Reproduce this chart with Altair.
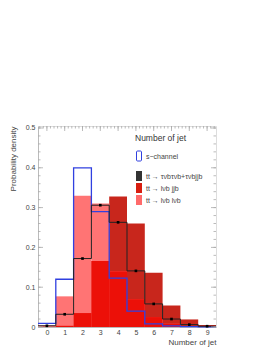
import altair as alt
import pandas as pd

# ---- data ----
bins = [0, 1, 2, 3, 4, 5, 6, 7, 8, 9]
s_channel = [0.009, 0.120, 0.400, 0.290, 0.123, 0.040, 0.008, 0.003, 0.001, 0.0005]
tt_tau = [0.003, 0.032, 0.172, 0.306, 0.263, 0.141, 0.058, 0.020, 0.006, 0.002]
tt_lvb_jjb = [0.0, 0.003, 0.035, 0.166, 0.328, 0.260, 0.136, 0.054, 0.019, 0.005]
tt_lvb_lvb = [0.004, 0.077, 0.330, 0.310, 0.140, 0.070, 0.025, 0.008, 0.002, 0.001]

y_ticks = [0, 0.1, 0.2, 0.3, 0.4, 0.5]
legend_title = "Number of jet"
legend_labels = ["s\u2212channel", "tt \u2192 \u03c4\u03bdb\u03c4\u03bdb+\u03c4\u03bdbjjb",
                 "tt \u2192 l\u03bdb jjb", "tt \u2192 l\u03bdb l\u03bdb"]

W, H = 178, 201
FONT = "Liberation Sans"
C_DARK = "#c8261c"
C_PINK = "#ff7474"
C_BRIGHT = "#ec1008"
C_BLUE = "#3040e0"

df = pd.DataFrame({
    "bin": bins,
    "s": s_channel,
    "tau": tt_tau,
    "jjb": tt_lvb_jjb,
    "lvb": tt_lvb_lvb,
})
df["lo"] = df["bin"] - 0.5
df["hi"] = df["bin"] + 0.5
df["overlap"] = df[["jjb", "lvb"]].min(axis=1)

edges = [b - 0.5 for b in bins] + [bins[-1] + 0.5]
step = pd.DataFrame({
    "edge": edges,
    "s": s_channel + [s_channel[-1]],
    "tau": tt_tau + [tt_tau[-1]],
})

xs = alt.Scale(domain=[-0.5, 9.5], nice=False, zero=False)
ys = alt.Scale(domain=[0, 0.505], nice=False, zero=True)

xaxis = alt.Axis(values=bins, format="d", ticks=False, grid=False, labelFontSize=7,
                 labelOverlap=False, labelPadding=1, labelColor="#444", labelFont=FONT,
                 domainColor="#bbb", labelBound=False, labelFlush=False,
                 title="Number of jet", titleAnchor="end", titleFontSize=8,
                 titleFontWeight="normal", titleColor="#444", titleFont=FONT, titlePadding=3)
yaxis = alt.Axis(values=y_ticks, ticks=False, grid=False, labelFontSize=7, labelPadding=3,
                 labelOverlap=False, labelColor="#444", labelFont=FONT, domainColor="#bbb",
                 labelFlush=False,
                 labelExpr="datum.value == 0 ? '0' : format(datum.value, '.1f')",
                 title="Probability density", titleAnchor="end", titleFontSize=8,
                 titleFontWeight="normal", titleColor="#444", titleFont=FONT, titlePadding=8)


def X(f):
    return alt.X(f, scale=xs, axis=xaxis)


def Y(f):
    return alt.Y(f, scale=ys, axis=yaxis)


base = alt.Chart(df)

dark = base.mark_rect(color=C_DARK).encode(x=X("lo:Q"), x2="hi:Q", y=Y("jjb:Q"), y2=alt.datum(0))
pink = base.mark_rect(color=C_PINK).encode(x=X("lo:Q"), x2="hi:Q", y=Y("lvb:Q"), y2=alt.datum(0))
bright = base.mark_rect(color=C_BRIGHT).encode(x=X("lo:Q"), x2="hi:Q", y=Y("overlap:Q"), y2=alt.datum(0))

blue = alt.Chart(step).mark_line(color=C_BLUE, strokeWidth=1.3, interpolate="step-after").encode(
    x=X("edge:Q"), y=Y("s:Q"))
black = alt.Chart(step).mark_line(color="#222", strokeWidth=1, interpolate="step-after").encode(
    x=X("edge:Q"), y=Y("tau:Q"))
pts = base.mark_square(color="black", size=7, opacity=1).encode(x=X("bin:Q"), y=Y("tau:Q"))

# inward ticks (ROOT style)
major_y = pd.DataFrame({"v": y_ticks})
minor_y = pd.DataFrame({"v": [round(i * 0.02, 3) for i in range(26)]})
minor_x = pd.DataFrame({"v": [round(-0.4 + i * 0.2, 2) for i in range(50)]})
major_x = pd.DataFrame({"v": bins})
tk = "#aaa"
ticks = [
    alt.Chart(major_y).mark_rule(color=tk, strokeWidth=0.8).encode(
        y=Y("v:Q"), x=alt.value(0), x2=alt.value(5)),
    alt.Chart(minor_y).mark_rule(color=tk, strokeWidth=0.8).encode(
        y=Y("v:Q"), x=alt.value(0), x2=alt.value(2.5)),
    alt.Chart(major_y).mark_rule(color=tk, strokeWidth=0.8).encode(
        y=Y("v:Q"), x=alt.value(W - 5), x2=alt.value(W)),
    alt.Chart(minor_y).mark_rule(color=tk, strokeWidth=0.8).encode(
        y=Y("v:Q"), x=alt.value(W - 2.5), x2=alt.value(W)),
    alt.Chart(minor_x).mark_rule(color=tk, strokeWidth=0.8).encode(
        x=X("v:Q"), y=alt.value(0), y2=alt.value(2.5)),
    alt.Chart(major_x).mark_rule(color=tk, strokeWidth=0.8).encode(
        x=X("v:Q"), y=alt.value(0), y2=alt.value(5)),
]

# legend
one = pd.DataFrame({"a": [0]})
leg = [alt.Chart(one).mark_text(text=legend_title, align="left", baseline="middle",
                                fontSize=8.5, font=FONT, color="#333").encode(
    x=alt.value(97), y=alt.value(12))]
box_y = [25, 45, 57, 69]
box_fill = [None, "#333333", "#d81e10", "#ff6a6a"]
for lab, by, fc in zip(legend_labels, box_y, box_fill):
    if fc is None:
        leg.append(alt.Chart(one).mark_rect(fill="white", stroke=C_BLUE, strokeWidth=1,
                                            cornerRadius=1).encode(
            x=alt.value(98.5), x2=alt.value(103.5), y=alt.value(by), y2=alt.value(by + 10)))
    else:
        leg.append(alt.Chart(one).mark_rect(fill=fc).encode(
            x=alt.value(98), x2=alt.value(104), y=alt.value(by), y2=alt.value(by + 10)))
    leg.append(alt.Chart(one).mark_text(text=lab, align="left", baseline="middle",
                                        fontSize=7, font=FONT, color="#444").encode(
        x=alt.value(108), y=alt.value(by + 5.5)))

chart = alt.layer(dark, pink, bright, blue, black, pts, *ticks, *leg).properties(
    width=W, height=H,
    autosize=alt.AutoSizeParams(type="none"),
    padding={"left": 30, "top": 118, "right": 40, "bottom": 22},
).configure_view(stroke="#bbb", strokeWidth=1).configure(background="white")

chart.save("out.html", embed_options={"renderer": "svg", "actions": False})
